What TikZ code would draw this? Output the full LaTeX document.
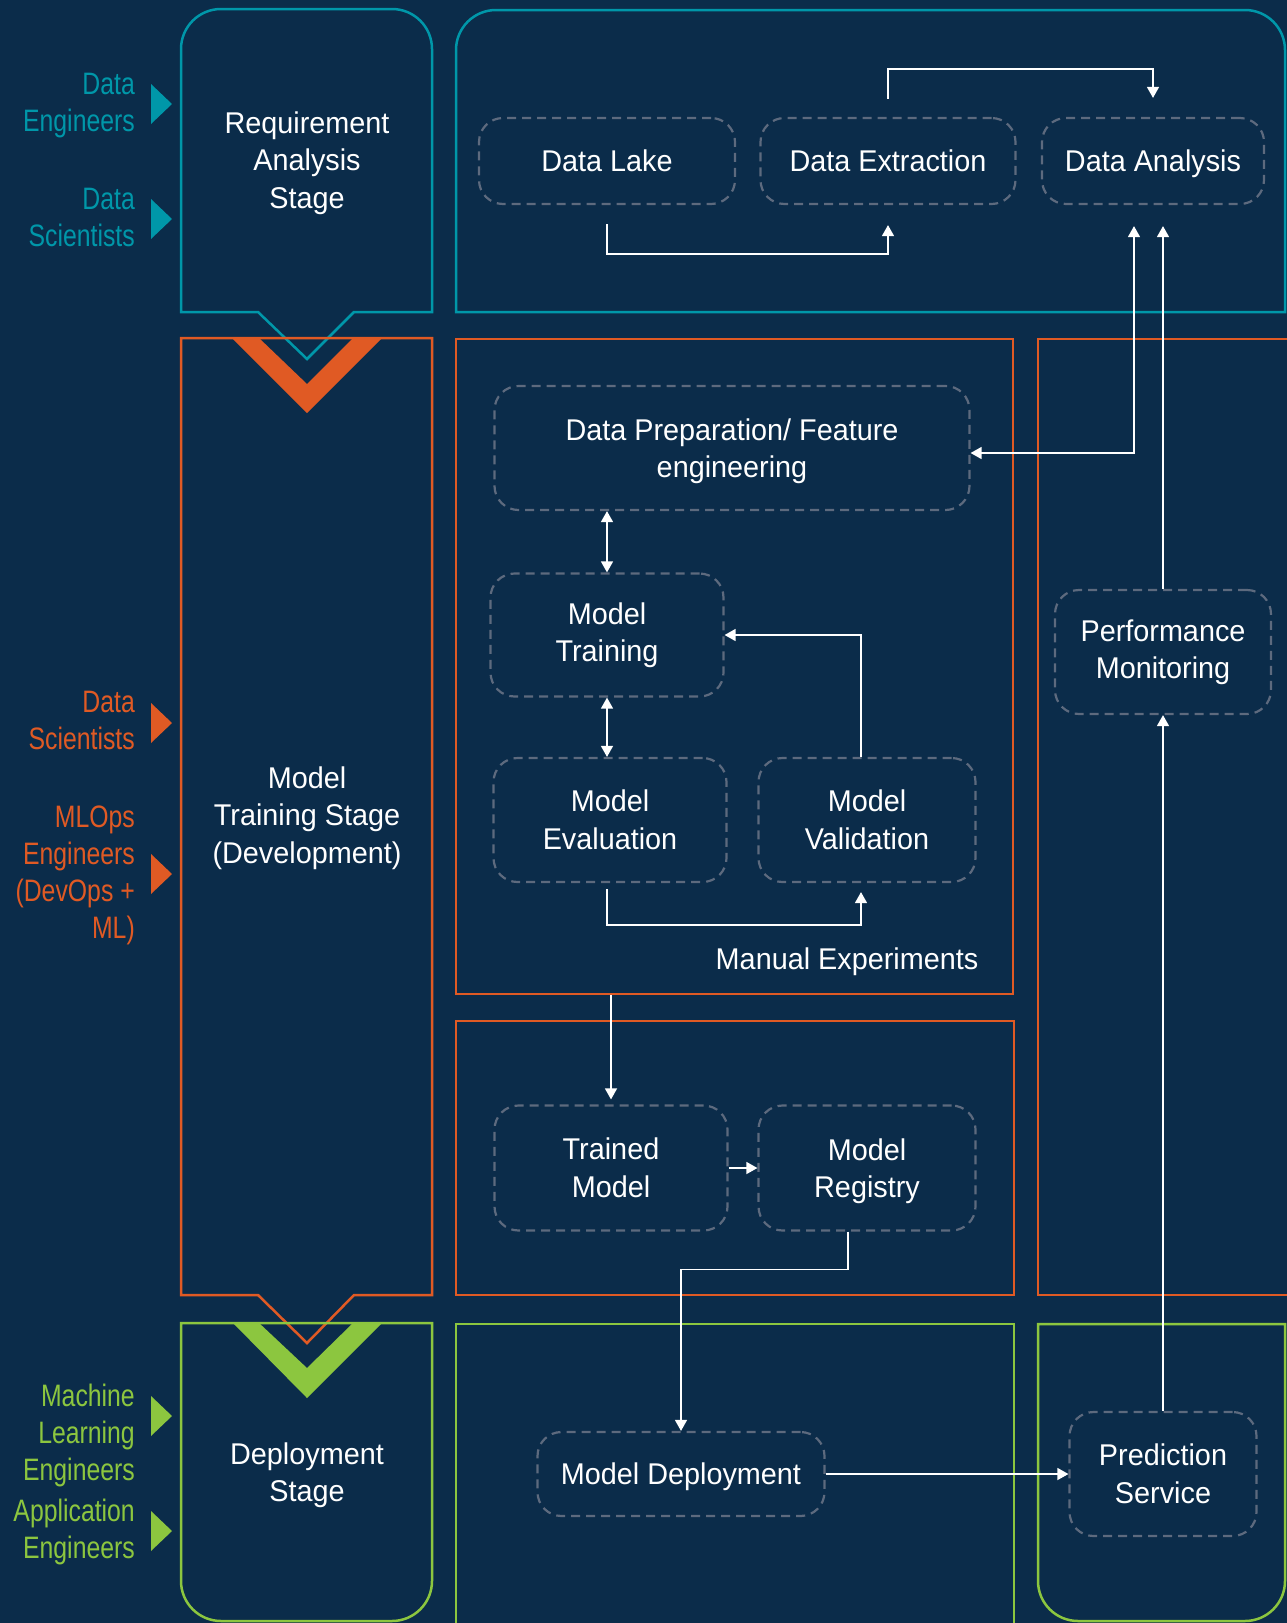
\documentclass[tikz,border=0pt]{standalone}
\usepackage{fontspec}
\setmainfont[FakeStretch=0.96]{Liberation Sans}
\newfontfamily\rolefont[FakeStretch=0.8]{Liberation Sans}
\usetikzlibrary{arrows.meta}

\definecolor{navy}{HTML}{0B2C4A}
\definecolor{mlteal}{HTML}{0097A9}
\definecolor{mlorange}{HTML}{E05A24}
\definecolor{mlgreen}{HTML}{8CC63F}
\definecolor{dashgray}{HTML}{5D6A7E}

\tikzset{rolearrow/.pic={\fill (0,-20) -- (21,0) -- (0,20) -- cycle;}}

\begin{document}
\begin{tikzpicture}[x=1pt,y=-1pt,
    proc/.style={draw=dashgray, dash pattern=on 9pt off 6pt, line width=2.2pt, rounded corners=24pt,
        text=white, align=center, inner sep=0pt, font=\fontsize{30}{37.5}\selectfont},
    flat/.style={text depth=0pt}, % ignore descenders when centring
    stage/.style={text=white, align=center, inner sep=0pt, font=\fontsize{30}{37.5}\selectfont},
    role/.style={anchor=east, align=right, inner sep=0pt, font=\rolefont\fontsize{31}{37}\selectfont},
    zone/.style={line width=2.5pt},
    flow/.style={draw=white, line width=1.4pt, -{Triangle[length=11pt,width=12pt]}},
    twoway/.style={flow, {Triangle[length=11pt,width=12pt]}-{Triangle[length=11pt,width=12pt]}}]

    \fill[navy] (0,0) rectangle (1287,1623);
    \useasboundingbox (0,0) rectangle (1287,1623);

    % stage column
    \draw[zone, mlteal] (181,312) -- (181,49) arc[start angle=180, end angle=90, radius=40pt] -- (392,9)
        arc[start angle=90, end angle=0, radius=40pt] -- (432,312) -- (354,312) -- (307,359) -- (258,312) -- cycle;
    \draw[zone, mlorange] (181,338) -- (432,338) -- (432,1295) -- (354,1295) -- (307,1343) -- (258,1295) -- (181,1295) -- cycle;
    \draw[zone, mlgreen] (181,1323) -- (432,1323) -- (432,1581) arc[start angle=0, end angle=-90, radius=40pt]
        -- (221,1621) arc[start angle=270, end angle=180, radius=40pt] -- cycle;
    \fill[mlorange] (232,338) -- (307,413) -- (382,338) -- (353,338) -- (307,384) -- (259,338) -- cycle;
    \fill[mlgreen] (232,1322) -- (307,1398) -- (383,1322) -- (354,1322) -- (307,1368) -- (258,1322) -- cycle;

    \node[stage] (req) at (307,163) {Requirement\\Analysis\\Stage};
    \node[stage] (dev) at (307,818) {Model\\Training Stage\\(Development)};
    \node[stage] (rollout) at (307,1475) {Deployment\\Stage};

    % roles
    \node[role, text=mlteal] (de) at (135,106) {Data\\Engineers};
    \node[role, text=mlteal] (ds) at (135,217) {Data\\Scientists};
    \node[role, text=mlorange] (dsb) at (135,720) {Data\\Scientists};
    \node[role, text=mlorange] (mlops) at (135,875) {MLOps\\Engineers\\(DevOps +\\ML)};
    \node[role, text=mlgreen] (mle) at (135,1435) {Machine\\Learning\\Engineers};
    \node[role, text=mlgreen] (ae) at (135,1532) {Application\\Engineers};
    \pic[fill=mlteal] at (151,104) {rolearrow};
    \pic[fill=mlteal] at (151,219) {rolearrow};
    \pic[fill=mlorange] at (151,723) {rolearrow};
    \pic[fill=mlorange] at (151,874) {rolearrow};
    \pic[fill=mlgreen] at (151,1416) {rolearrow};
    \pic[fill=mlgreen] at (151,1531) {rolearrow};

    % zones
    \draw[zone, mlteal] (456,312) -- (456,50) arc[start angle=180, end angle=90, radius=40pt] -- (1245,10)
        arc[start angle=90, end angle=0, radius=40pt] -- (1285,312) -- cycle;
    \node[zone, draw=mlorange, minimum width=557pt, minimum height=655pt, inner sep=0pt] (manualbox) at (734.5,666.5) {};
    \draw[zone, mlorange] (456,1021) rectangle (1014,1295);
    \draw[zone, mlorange] (1038,339) rectangle (1300,1295);
    \draw[zone, mlgreen] (456,1324) rectangle (1014,1640);
    \draw[zone, mlgreen] (1038,1324) -- (1285,1324) -- (1285,1581) arc[start angle=0, end angle=-90, radius=40pt]
        -- (1078,1621) arc[start angle=270, end angle=180, radius=40pt] -- cycle;

    % steps
    \node[proc, flat, minimum width=256pt, minimum height=86pt] (lake) at (607,161) {Data Lake};
    \node[proc, flat, minimum width=255pt, minimum height=86pt] (extract) at (888,161) {Data Extraction};
    \node[proc, flat, minimum width=222pt, minimum height=86pt] (analysis) at (1153,161) {Data Analysis};
    \node[proc, flat, minimum width=475pt, minimum height=124pt] (prep) at (732,448) {Data Preparation/ Feature\\engineering};
    \node[proc, minimum width=233pt, minimum height=123pt] (training) at (607,635) {Model\\Training};
    \node[proc, minimum width=233pt, minimum height=124pt] (evaluation) at (610,820) {Model\\Evaluation};
    \node[proc, minimum width=217pt, minimum height=124pt] (validation) at (867,820) {Model\\Validation};
    \node[stage] (manual) at (847,962) {Manual Experiments};
    \node[proc, minimum width=233pt, minimum height=125pt] (trained) at (611,1168) {Trained\\Model};
    \node[proc, flat, minimum width=217pt, minimum height=125pt] (registry) at (867,1168) {Model\\Registry};
    \node[proc, flat, minimum width=287pt, minimum height=84pt] (deploy) at (681,1474) {Model Deployment};
    \node[proc, minimum width=187pt, minimum height=124pt] (predict) at (1163,1474) {Prediction\\Service};
    \node[proc, minimum width=216pt, minimum height=124pt] (monitor) at (1163,652) {Performance\\Monitoring};

    % connectors
    \coordinate (dain) at ([yshift=-21pt]analysis.south);
    \draw[flow] ([yshift=-19pt]lake.south) -- ++(0,30) -| ([yshift=-20pt]extract.south);
    \draw[flow] ([yshift=18pt]extract.north) -- ++(0,-30) -| ([yshift=19pt]analysis.north);
    \draw[twoway] ([xshift=-19pt]dain) |- ([yshift=-5pt]prep.east);
    \draw[flow] (monitor.north) -- (monitor.north |- dain);
    \draw[flow] (predict.north) -- (monitor.south);
    \draw[twoway] (training.north) -- (training.north |- prep.south);
    \draw[twoway] (training.south) -- (training.south |- evaluation.north);
    \draw[flow] ([xshift=-6pt]validation.north) |- (training.east);
    \draw[flow] ([xshift=-3pt,yshift=-6pt]evaluation.south) -- ++(0,36) -| ([xshift=-6pt,yshift=-9pt]validation.south);
    \draw[flow] (trained.north |- manualbox.south) -- ([yshift=5pt]trained.north);
    \draw[flow] (trained.east) -- (registry.west);
    \draw[flow] ([xshift=-19pt]registry.south) -- ++(0,38) -| (deploy.north);
    \draw[flow] (deploy.east) -- (predict.west);
\end{tikzpicture}
\end{document}
